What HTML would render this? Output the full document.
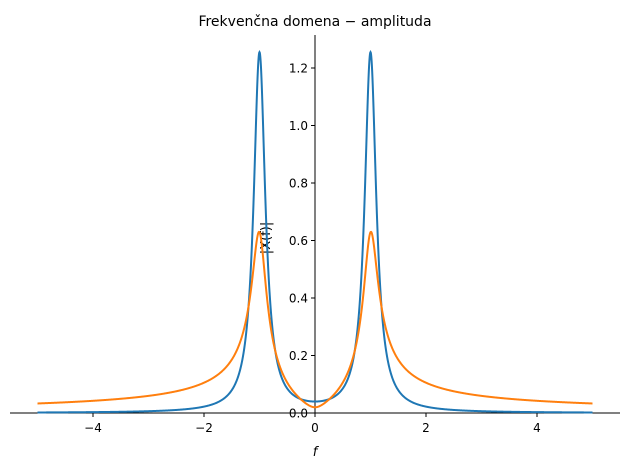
<!DOCTYPE html>
<html><head><meta charset="utf-8"><style>body{margin:0;background:#fff}svg{display:block}text{font-family:"DejaVu Sans","Liberation Sans",sans-serif}</style></head>
<body>
<svg id="s" width="630" height="468" xmlns="http://www.w3.org/2000/svg">
<text x="315" y="26" font-size="14" text-anchor="middle">Frekvenčna domena − amplituda</text>
<line x1="10" y1="413" x2="620" y2="413" stroke="#000" stroke-width="1"/>
<line x1="315" y1="35" x2="315" y2="413" stroke="#000" stroke-width="1"/>
<g id="ticks" font-size="12"></g>
<text x="315" y="456" font-size="13" font-style="italic" text-anchor="middle">f</text>
<text transform="translate(270,238) rotate(-90)" font-size="13" text-anchor="middle">|X(f)|</text>
<path id="b" fill="none" stroke="#1f77b4" stroke-width="2"/>
<path id="o" fill="none" stroke="#ff7f0e" stroke-width="2"/>
</svg>
<script>
var X=f=>315+55.5*f,Y=v=>413-287.5*v,g=document.getElementById('ticks'),ns='http://www.w3.org/2000/svg';
function el(t,a,txt){var e=document.createElementNS(ns,t);for(var k in a)e.setAttribute(k,a[k]);if(txt)e.textContent=txt;g.appendChild(e);}
[-4,-2,0,2,4].forEach(f=>{el('line',{x1:X(f),x2:X(f),y1:413,y2:417,stroke:'#000'});el('text',{x:X(f),y:432,'text-anchor':'middle'},(f<0?'−':'')+Math.abs(f));});
for(var i=0;i<=6;i++){var v=i*0.2;el('line',{x1:311,x2:315,y1:Y(v),y2:Y(v),stroke:'#000'});el('text',{x:308,y:Y(v)+4.5,'text-anchor':'end'},v.toFixed(1));}
var a=0.8,pb='',po='';
for(var k=0;k<=2000;k++){var f=-5+10*k/2000,w1=2*Math.PI*(f-1),w2=2*Math.PI*(f+1);
var bv=a/(a*a+w1*w1)+a/(a*a+w2*w2);
var d1=a*a+w1*w1,d2=a*a+w2*w2,re=0.5*(a/d1+a/d2),im=-0.5*(w1/d1+w2/d2),ov=Math.hypot(re,im);
pb+=(k?'L':'M')+X(f).toFixed(2)+' '+Y(bv).toFixed(2);po+=(k?'L':'M')+X(f).toFixed(2)+' '+Y(ov).toFixed(2);}
document.getElementById('b').setAttribute('d',pb);document.getElementById('o').setAttribute('d',po);
</script>
</body></html>
